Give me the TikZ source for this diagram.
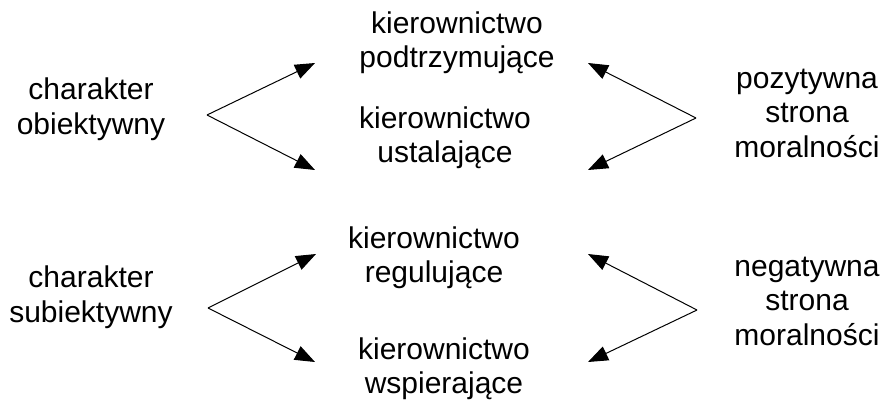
\documentclass[tikz,border=0pt]{standalone}
\usepackage{fontspec}
\setmainfont{Liberation Sans}
\usetikzlibrary{arrows.meta}
\begin{document}
\begin{tikzpicture}[x=1pt,y=-1pt,
  label/.style={font=\fontsize{30}{34.5}\selectfont, align=center, inner sep=0pt, anchor=center},
  link/.style={line width=1pt, -{Triangle[length=20pt,width=15pt]}}]
  \useasboundingbox (0,0) rectangle (885,401);

  % left column
  \node[label] (obj) at (91,109) {charakter\\obiektywny};
  \node[label] (subj) at (91,297) {charakter\\subiektywny};

  % middle column
  \node[label] (podt) at (457,43) {kierownictwo\\podtrzymujące};
  \node[label] (ustal) at (445,138) {kierownictwo\\ustalające};
  \node[label] (regul) at (434,258) {kierownictwo\\regulujące};
  \node[label] (wspier) at (444,369) {kierownictwo\\wspierające};

  % right column
  \node[label] (poz) at (807,113) {pozytywna\\strona\\moralności};
  \node[label] (neg) at (807,301) {negatywna\\strona\\moralności};

  % fork points and arrow ends
  \coordinate (vobj) at (207,115);
  \coordinate (vsubj) at (208,308);
  \coordinate (vpoz) at (696,118);
  \coordinate (vneg) at (697,310);
  \coordinate (tpodtL) at (315,63);
  \coordinate (tustalL) at (315,170);
  \coordinate (tregulL) at (316,254);
  \coordinate (twspierL) at (315,362);
  \coordinate (tpodtR) at (588,63);
  \coordinate (tustalR) at (588,170);
  \coordinate (tregulR) at (588,254);
  \coordinate (twspierR) at (588,362);

  \draw[link] (vobj) -- (tpodtL);
  \draw[link] (vobj) -- (tustalL);
  \draw[link] (vsubj) -- (tregulL);
  \draw[link] (vsubj) -- (twspierL);
  \draw[link] (vpoz) -- (tpodtR);
  \draw[link] (vpoz) -- (tustalR);
  \draw[link] (vneg) -- (tregulR);
  \draw[link] (vneg) -- (twspierR);
\end{tikzpicture}
\end{document}
